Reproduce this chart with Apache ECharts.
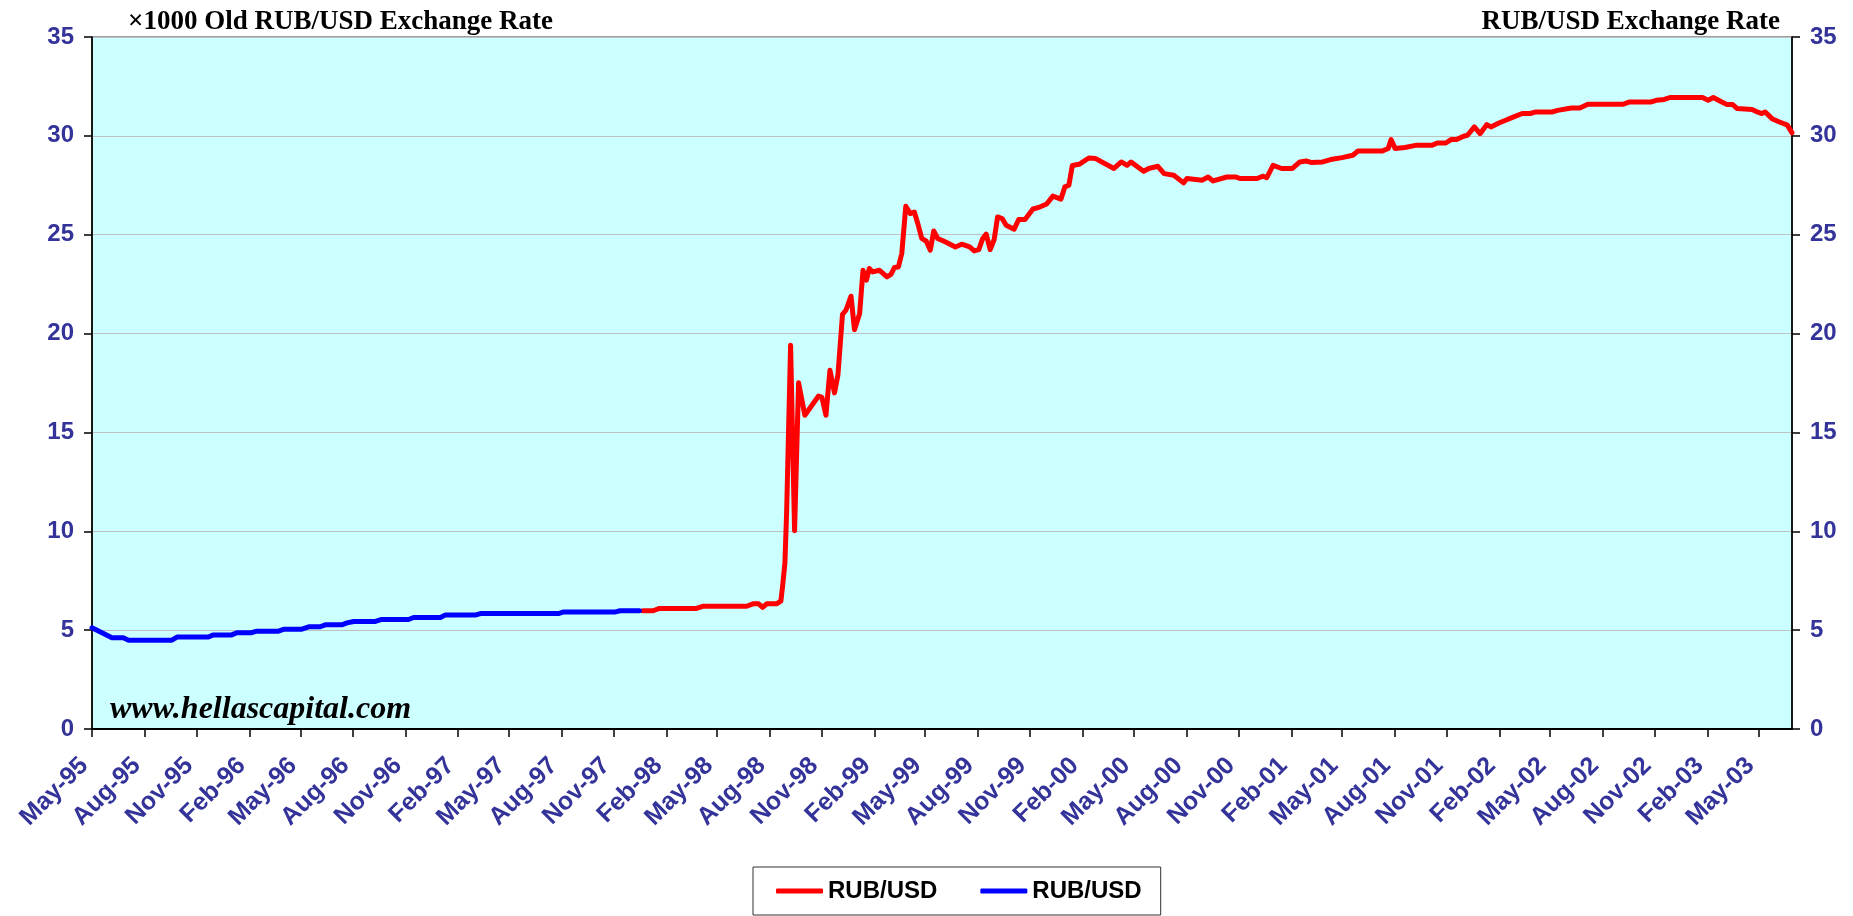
<!DOCTYPE html>
<html>
<head>
<meta charset="utf-8">
<script src="https://cdn.jsdelivr.net/npm/echarts@6/dist/echarts.min.js"></script>
<style>
  html, body { margin: 0; padding: 0; background: #ffffff; }
  #chart { width: 1853px; height: 916px; }
</style>
</head>
<body>
<div id="chart"></div>
<script>
// ---- Data ----
const tickLabels = ['May-95','Aug-95','Nov-95','Feb-96','May-96','Aug-96','Nov-96','Feb-97','May-97','Aug-97','Nov-97',
  'Feb-98','May-98','Aug-98','Nov-98','Feb-99','May-99','Aug-99','Nov-99','Feb-00','May-00','Aug-00','Nov-00',
  'Feb-01','May-01','Aug-01','Nov-01','Feb-02','May-02','Aug-02','Nov-02','Feb-03','May-03'];

const yTicks = [0, 5, 10, 15, 20, 25, 30, 35];

// ×1000 old roubles per USD (blue)
const oldRubUsd = [
  ['1995-05-01',5.12],['1995-06-05',4.61],['1995-06-25',4.61],['1995-07-04',4.49],['1995-09-18',4.49],
  ['1995-09-27',4.65],['1995-11-21',4.65],['1995-11-30',4.76],['1996-01-01',4.76],['1996-01-10',4.87],
  ['1996-02-05',4.87],['1996-02-14',4.95],['1996-03-23',4.95],['1996-04-02',5.05],['1996-05-03',5.05],
  ['1996-05-15',5.17],['1996-06-04',5.17],['1996-06-13',5.27],['1996-07-12',5.27],['1996-07-21',5.37],
  ['1996-08-02',5.44],['1996-09-09',5.44],['1996-09-20',5.54],['1996-11-06',5.54],['1996-11-15',5.64],
  ['1997-01-01',5.64],['1997-01-09',5.76],['1997-03-03',5.76],['1997-03-12',5.84],['1997-07-27',5.84],
  ['1997-08-05',5.92],['1997-11-04',5.92],['1997-11-12',5.98],['1997-12-16',5.98]
];

// new roubles per USD (red)
const rubUsd = [
  ['1997-12-22',5.98],['1998-01-09',5.98],['1998-01-20',6.10],['1998-03-26',6.10],['1998-04-07',6.21],
  ['1998-06-22',6.21],['1998-07-03',6.33],['1998-07-13',6.33],['1998-07-20',6.15],['1998-07-27',6.33],
  ['1998-08-14',6.33],['1998-08-21',6.48],['1998-08-24',7.23],['1998-08-28',8.38],['1998-08-31',10.9],
  ['1998-09-07',19.41],['1998-09-14',10.03],['1998-09-21',17.51],['1998-10-02',15.87],['1998-10-26',16.84],
  ['1998-11-01',16.77],['1998-11-08',15.87],['1998-11-15',18.15],['1998-11-23',17.0],['1998-11-29',17.9],
  ['1998-12-07',20.97],['1998-12-13',21.18],['1998-12-22',21.89],['1998-12-28',20.2],['1999-01-06',21.0],
  ['1999-01-12',23.2],['1999-01-18',22.7],['1999-01-23',23.29],['1999-01-29',23.12],['1999-02-10',23.2],
  ['1999-02-23',22.87],['1999-03-02',22.99],['1999-03-08',23.34],['1999-03-15',23.37],['1999-03-21',24.05],
  ['1999-03-28',26.44],['1999-04-05',26.07],['1999-04-12',26.15],['1999-04-18',25.57],['1999-04-25',24.81],
  ['1999-05-03',24.67],['1999-05-10',24.22],['1999-05-16',25.19],['1999-05-23',24.81],['1999-06-05',24.64],
  ['1999-06-23',24.38],['1999-07-04',24.52],['1999-07-18',24.38],['1999-07-26',24.18],['1999-08-03',24.25],
  ['1999-08-10',24.81],['1999-08-16',25.03],['1999-08-23',24.25],['1999-08-30',24.76],['1999-09-05',25.9],
  ['1999-09-13',25.82],['1999-09-20',25.48],['1999-10-04',25.28],['1999-10-12',25.77],['1999-10-23',25.77],
  ['1999-11-06',26.3],['1999-11-16',26.38],['1999-11-30',26.55],['1999-12-11',26.95],['1999-12-25',26.8],
  ['2000-01-01',27.42],['2000-01-08',27.5],['2000-01-14',28.5],['2000-01-26',28.56],['2000-02-12',28.88],
  ['2000-02-24',28.85],['2000-03-27',28.35],['2000-04-09',28.68],['2000-04-19',28.51],['2000-04-26',28.68],
  ['2000-05-18',28.21],['2000-05-27',28.35],['2000-06-12',28.46],['2000-06-23',28.09],['2000-07-10',28.01],
  ['2000-07-27',27.62],['2000-08-02',27.84],['2000-08-29',27.76],['2000-09-08',27.92],['2000-09-17',27.72],
  ['2000-10-11',27.92],['2000-10-26',27.92],['2000-11-04',27.84],['2000-12-03',27.84],['2000-12-13',27.96],
  ['2000-12-20',27.89],['2000-12-31',28.51],['2001-01-15',28.35],['2001-02-03',28.35],['2001-02-16',28.68],
  ['2001-02-27',28.73],['2001-03-09',28.65],['2001-03-28',28.68],['2001-04-11',28.8],['2001-05-01',28.9],
  ['2001-05-20',29.02],['2001-05-29',29.24],['2001-07-11',29.24],['2001-07-21',29.36],['2001-07-26',29.81],
  ['2001-08-02',29.36],['2001-08-19',29.41],['2001-09-07',29.52],['2001-10-06',29.52],['2001-10-15',29.64],
  ['2001-10-30',29.64],['2001-11-08',29.81],['2001-11-18',29.81],['2001-11-30',29.98],['2001-12-07',30.03],
  ['2001-12-19',30.45],['2001-12-29',30.11],['2002-01-10',30.57],['2002-01-17',30.45],['2002-01-31',30.65],
  ['2002-02-12',30.79],['2002-02-26',30.96],['2002-03-13',31.13],['2002-03-27',31.13],['2002-04-06',31.21],
  ['2002-05-05',31.21],['2002-05-14',31.29],['2002-06-07',31.41],['2002-06-22',31.41],['2002-07-06',31.6],
  ['2002-09-06',31.6],['2002-09-16',31.71],['2002-10-24',31.71],['2002-11-03',31.8],['2002-11-17',31.84],
  ['2002-11-27',31.94],['2003-01-23',31.94],['2003-02-02',31.8],['2003-02-11',31.94],['2003-02-26',31.71],
  ['2003-03-07',31.58],['2003-03-17',31.58],['2003-03-25',31.38],['2003-04-20',31.33],['2003-04-29',31.21],
  ['2003-05-07',31.13],['2003-05-13',31.21],['2003-05-25',30.87],['2003-06-07',30.7],['2003-06-21',30.54],
  ['2003-06-29',30.15]
];

const axisStart = '1995-05-01';
const axisEnd = '2003-06-29';

// ---- Build helpers ----
const monthNames = ['Jan','Feb','Mar','Apr','May','Jun','Jul','Aug','Sep','Oct','Nov','Dec'];
function labelToTime(lbl) {
  const [m, y] = lbl.split('-');
  const yy = parseInt(y, 10);
  const year = yy < 50 ? 2000 + yy : 1900 + yy;
  return Date.UTC(year, monthNames.indexOf(m), 1);
}
function toTime(s) { const p = s.split('-').map(Number); return Date.UTC(p[0], p[1] - 1, p[2]); }
const tickTimes = tickLabels.map(labelToTime);
const labelByTime = {};
tickTimes.forEach((t, i) => { labelByTime[t] = tickLabels[i]; });

const navy = '#333399';
const sans = 'Liberation Sans, Arial, sans-serif';
const yLabelFont = { fontFamily: sans, fontWeight: 'bold', fontSize: 24, color: navy };
const xLabelFont = { fontFamily: sans, fontWeight: 'bold', fontSize: 25, color: navy };

const chart = echarts.init(document.getElementById('chart'), null, { renderer: 'canvas' });
chart.setOption({
  animation: false,
  backgroundColor: '#ffffff',
  grid: {
    left: 92, right: 61, top: 37, height: 692,
    show: true, backgroundColor: '#CCFFFF', borderColor: '#808080', borderWidth: 1.5
  },
  xAxis: {
    type: 'value',
    min: toTime(axisStart),
    max: toTime(axisEnd),
    splitLine: { show: false },
    axisLine: { show: true, onZero: false, lineStyle: { color: '#000', width: 2 } },
    axisTick: { show: true, length: 8, inside: false, customValues: tickTimes, lineStyle: { color: '#000', width: 1.5 } },
    axisLabel: Object.assign({
      customValues: tickTimes,
      rotate: 45,
      margin: 25,
      padding: [0, 11, 0, 0],
      hideOverlap: false,
      showMinLabel: true,
      showMaxLabel: true,
      formatter: function (v) { return labelByTime[v] || ''; }
    }, xLabelFont)
  },
  yAxis: [
    {
      type: 'value', position: 'left', min: 0, max: 35, interval: 5,
      axisLine: { show: true, lineStyle: { color: '#000', width: 1.7 } },
      axisTick: { show: true, length: 8, lineStyle: { color: '#000', width: 1.5 } },
      splitLine: { show: true, lineStyle: { color: '#C0C0C0', width: 1.2 } },
      axisLabel: Object.assign({ margin: 18 }, yLabelFont)
    },
    {
      type: 'value', position: 'right', min: 0, max: 35, interval: 5,
      axisLine: { show: true, lineStyle: { color: '#000', width: 1.7 } },
      axisTick: { show: true, length: 8, lineStyle: { color: '#000', width: 1.5 } },
      splitLine: { show: false },
      axisLabel: Object.assign({ margin: 18 }, yLabelFont)
    }
  ],
  legend: {
    left: 753, top: 867,
    orient: 'horizontal',
    data: ['RUB/USD (new)', 'RUB/USD (old)'],
    formatter: function () { return 'RUB/USD'; },
    icon: 'roundRect',
    itemWidth: 47, itemHeight: 5, itemGap: 43,
    padding: [12, 19, 12, 23],
    borderColor: '#333', borderWidth: 1,
    textStyle: { fontFamily: sans, fontWeight: 'bold', fontSize: 24, color: '#000', lineHeight: 24 }
  },
  graphic: [
    { type: 'text', left: 128, top: 9, silent: true,
      style: { text: '×1000 Old RUB/USD Exchange Rate', fill: '#000',
        font: 'bold 27px "Liberation Serif", "Times New Roman", serif' } },
    { type: 'text', right: 73, top: 9, silent: true,
      style: { text: 'RUB/USD Exchange Rate', fill: '#000',
        font: 'bold 27px "Liberation Serif", "Times New Roman", serif' } },
    { type: 'text', left: 110, top: 694, silent: true, z: 10,
      style: { text: 'www.hellascapital.com', fill: '#000',
        font: 'italic bold 32px "Liberation Serif", "Times New Roman", serif' } }
  ],
  series: [
    {
      name: 'RUB/USD (new)', type: 'line', yAxisIndex: 0,
      data: rubUsd.map(d => [toTime(d[0]), d[1]]),
      showSymbol: false, symbol: 'none',
      lineStyle: { color: '#FF0000', width: 5, join: 'round', cap: 'round' },
      itemStyle: { color: '#FF0000' }
    },
    {
      name: 'RUB/USD (old)', type: 'line', yAxisIndex: 0,
      data: oldRubUsd.map(d => [toTime(d[0]), d[1]]),
      showSymbol: false, symbol: 'none',
      lineStyle: { color: '#0000FF', width: 5, join: 'round', cap: 'round' },
      itemStyle: { color: '#0000FF' }
    }
  ]
});
</script>
</body>
</html>
